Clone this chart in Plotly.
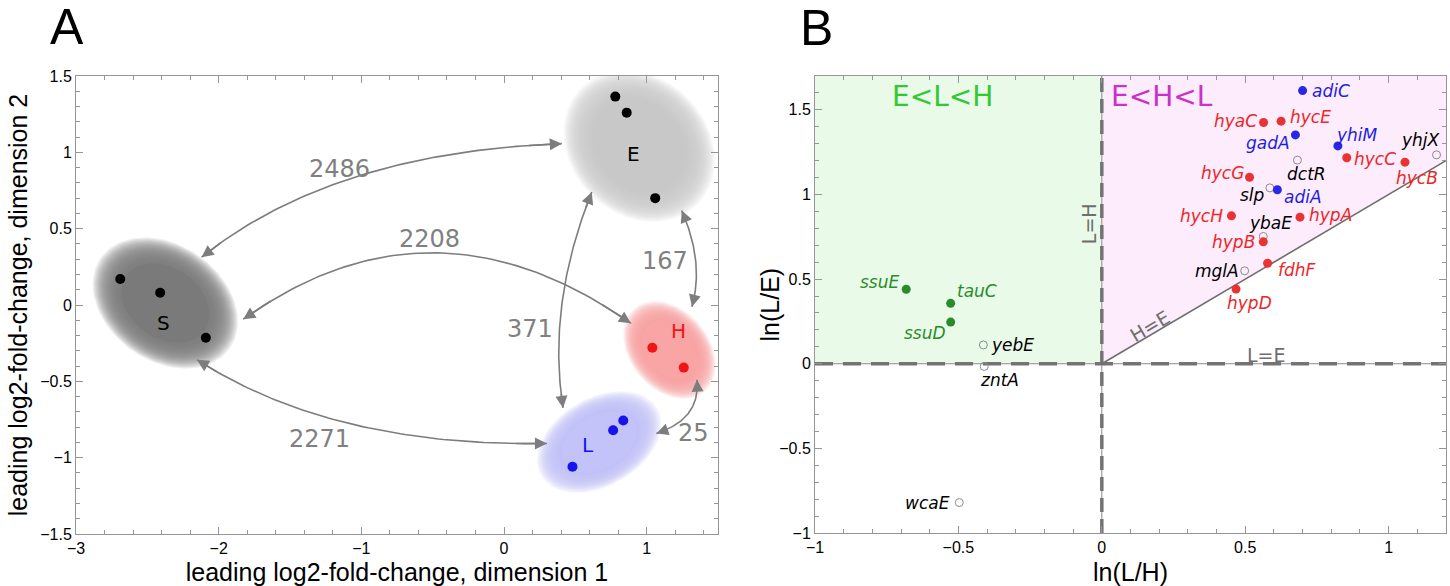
import numpy as np
import plotly.graph_objects as go

# ---------------- Panel A data ----------------
S_x = [-2.69, -2.41, -2.09]
S_y = [0.17, 0.08, -0.215]
E_x = [0.78, 0.86, 1.06]
E_y = [1.365, 1.26, 0.70]
H_x = [1.04, 1.26]
H_y = [-0.28, -0.41]
L_x = [0.48, 0.765, 0.836]
L_y = [-1.06, -0.82, -0.757]

link_pairs = [("S", "E"), ("S", "H"), ("S", "L"), ("E", "L"), ("E", "H"), ("H", "L")]
link_counts = [2486, 2208, 2271, 371, 167, 25]

A_xticks = [-3, -2, -1, 0, 1]
A_xticklabels = ["\u22123", "\u22122", "\u22121", "0", "1"]
A_yticks = [-1.5, -1, -0.5, 0, 0.5, 1, 1.5]
A_yticklabels = ["\u22121.5", "\u22121", "\u22120.5", "0", "0.5", "1", "1.5"]

# ---------------- Panel B data ----------------
red_genes = ["hyaC", "hycE", "hycC", "hycB", "hycG", "hycH", "hypA", "hypB", "fdhF", "hypD"]
red_x = [0.564, 0.625, 0.854, 1.057, 0.515, 0.452, 0.691, 0.563, 0.578, 0.468]
red_y = [1.425, 1.433, 1.217, 1.191, 1.102, 0.874, 0.866, 0.720, 0.594, 0.441]

blue_genes = ["adiC", "gadA", "yhiM", "adiA"]
blue_x = [0.700, 0.675, 0.823, 0.612]
blue_y = [1.614, 1.352, 1.287, 1.028]

green_genes = ["ssuE", "tauC", "ssuD"]
green_x = [-0.682, -0.527, -0.527]
green_y = [0.440, 0.357, 0.246]

open_genes = ["yhjX", "dctR", "slp", "ybaE", "mglA", "yebE", "zntA", "wcaE"]
open_x = [1.167, 0.682, 0.586, 0.563, 0.498, -0.413, -0.410, -0.497]
open_y = [1.234, 1.203, 1.039, 0.752, 0.549, 0.111, -0.016, -0.820]

B_xticks = [-1, -0.5, 0, 0.5, 1]
B_xticklabels = ["\u22121", "\u22120.5", "0", "0.5", "1"]
B_yticks = [-1, -0.5, 0, 0.5, 1, 1.5]
B_yticklabels = ["\u22121", "\u22120.5", "0", "0.5", "1", "1.5"]

# ---------------- styling / layout helpers ----------------
W, Hpx = 1450, 586
A_XR = [-3, 1.5]
A_YR = [-1.5, 1.5]
B_XR = [-1, 1.2]
B_YR = [-1, 1.7]
A_dom_x = [76 / W, 718 / W]
A_dom_y = [1 - 534 / Hpx, 1 - 76 / Hpx]
B_dom_x = [815 / W, 1446 / W]
B_dom_y = [1 - 533 / Hpx, 1 - 76 / Hpx]
px_x = (A_dom_x[1] - A_dom_x[0]) * W / (A_XR[1] - A_XR[0])
px_y = (A_dom_y[1] - A_dom_y[0]) * Hpx / (A_YR[1] - A_YR[0])

GRAY = "rgb(125,125,125)"
FRAME = "rgb(150,150,150)"
SANS = "Liberation Sans, Arial, sans-serif"
TICKFONT = dict(family=SANS, size=16, color="black")
TITLEFONT = dict(family=SANS, size=25, color="black")

# blob style: (center x, center y, semi-major px, semi-minor px, angle deg, rgb)
blob_style = {
    "S": (-2.374, 0.013, 68, 50, -35, (122, 122, 122)),
    "E": (0.948, 1.040, 71, 59, -45, (200, 200, 200)),
    "H": (1.160, -0.295, 47, 34, -50, (250, 165, 165)),
    "L": (0.667, -0.897, 58, 38, 30, (195, 195, 250)),
}
cluster_points = {"S": (S_x, S_y), "E": (E_x, E_y), "H": (H_x, H_y), "L": (L_x, L_y)}
cluster_color = {"S": "black", "E": "black", "H": "rgb(240,20,20)", "L": "rgb(20,20,235)"}
cluster_label_pos = {"S": (-2.39, -0.12), "E": (0.91, 0.99), "H": (1.22, -0.17), "L": (0.59, -0.92)}

# curve geometry for each link: (start, control, end) and label position
link_geom = [
    ((-2.12, 0.313), (-1.20, 1.00), (0.405, 1.057), (-1.15, 0.89)),
    ((-1.828, -0.093), (-0.50, 0.79), (0.89, -0.12), (-0.52, 0.43)),
    ((-2.152, -0.359), (-1.20, -0.93), (0.301, -0.907), (-1.29, -0.876)),
    ((0.615, 0.74), (0.30, 0.0), (0.414, -0.674), (0.18, -0.159)),
    ((1.246, 0.619), (1.406, 0.276), (1.317, -0.011), (1.13, 0.29)),
    ((1.353, -0.489), (1.378, -0.749), (1.068, -0.841), (1.327, -0.84)),
]

# gene label placement: (xanchor, xshift px, yshift px)
label_place = {
    "adiC": ("left", 7, 0), "hyaC": ("right", -5, 2), "hycE": ("left", 7, 4),
    "gadA": ("right", -3, -8), "yhiM": ("left", -4, 11), "yhjX": ("right", 5, 15),
    "dctR": ("center", 9, -14), "hycC": ("left", 5, -1), "hycB": ("center", 12, -16),
    "hycG": ("right", -4, 4), "slp": ("right", -3, -7), "adiA": ("left", 5, -7),
    "hycH": ("right", -6, 0), "hypA": ("left", 7, 2), "ybaE": ("center", 7, 13),
    "hypB": ("right", -6, 0), "fdhF": ("left", 8, -7), "mglA": ("right", -4, 0),
    "hypD": ("center", 13, -14), "ssuE": ("right", -5, 7), "tauC": ("left", 4, 12),
    "ssuD": ("right", -3, -11), "yebE": ("left", 6, 0), "zntA": ("center", 15, -14),
    "wcaE": ("right", -7, 0),
}

fig = go.Figure()

# ---- Panel A blobs (soft-edged ellipses) ----
t = np.linspace(0, 2 * np.pi, 120)
for key, (cx, cy, a, b, ang, rgb) in blob_style.items():
    phi = np.deg2rad(ang)
    layers = [(s, 0.13) for s in np.linspace(1.16, 0.72, 22)] + [(0.70, 1.0)]
    for s, alpha in layers:
        u = s * a * np.cos(t)
        v = s * b * np.sin(t)
        X = u * np.cos(phi) - v * np.sin(phi)
        Y = u * np.sin(phi) + v * np.cos(phi)
        fig.add_trace(go.Scatter(
            x=cx + X / px_x, y=cy + Y / px_y, mode="lines", fill="toself",
            line=dict(width=0), fillcolor=f"rgba({rgb[0]},{rgb[1]},{rgb[2]},{alpha})",
            hoverinfo="skip", showlegend=False, xaxis="x", yaxis="y"))

# ---- Panel A curved arrows ----
annotations = []
tt = np.linspace(0, 1, 80)
for (p0, c, p2, lp), cnt in zip(link_geom, link_counts):
    p0, c, p2 = np.array(p0), np.array(c), np.array(p2)
    curve = ((1 - tt)[:, None] ** 2) * p0 + (2 * (1 - tt) * tt)[:, None] * c + (tt[:, None] ** 2) * p2
    fig.add_trace(go.Scatter(x=curve[:, 0], y=curve[:, 1], mode="lines",
                             line=dict(color=GRAY, width=1.6), hoverinfo="skip",
                             showlegend=False, xaxis="x", yaxis="y"))
    for tip, back in ((curve[0], curve[6]), (curve[-1], curve[-7])):
        annotations.append(dict(x=tip[0], y=tip[1], ax=back[0], ay=back[1], xref="x", yref="y",
                                axref="x", ayref="y", showarrow=True, arrowhead=2, arrowsize=1.5,
                                arrowwidth=1.6, arrowcolor=GRAY, text=""))
    annotations.append(dict(x=lp[0], y=lp[1], xref="x", yref="y", text=str(cnt), showarrow=False,
                            font=dict(family="DejaVu Sans", size=24, color="rgb(128,128,128)")))

# ---- Panel A points and labels ----
for key, (xs, ys) in cluster_points.items():
    fig.add_trace(go.Scatter(x=xs, y=ys, mode="markers",
                             marker=dict(size=10, color=cluster_color[key]),
                             hoverinfo="skip", showlegend=False, xaxis="x", yaxis="y"))
    lx, ly = cluster_label_pos[key]
    annotations.append(dict(x=lx, y=ly, xref="x", yref="y", text=key, showarrow=False,
                            font=dict(family="DejaVu Sans", size=20, color=cluster_color[key])))

# ---- Panel B region fills ----
shapes = [
    dict(type="rect", xref="x2", yref="y2", x0=B_XR[0], x1=0, y0=0, y1=B_YR[1],
         fillcolor="rgb(233,250,233)", line=dict(width=0), layer="below"),
    dict(type="path", xref="x2", yref="y2",
         path=f"M 0,0 L {B_XR[1]},{B_XR[1]} L {B_XR[1]},{B_YR[1]} L 0,{B_YR[1]} Z",
         fillcolor="rgb(252,236,252)", line=dict(width=0), layer="below"),
]

# thin reference lines and dashed boundaries
fig.add_trace(go.Scatter(x=[B_XR[0], B_XR[1]], y=[0, 0], mode="lines",
                         line=dict(color="rgb(140,140,140)", width=1), hoverinfo="skip",
                         showlegend=False, xaxis="x2", yaxis="y2"))
fig.add_trace(go.Scatter(x=[0, 0], y=[B_YR[0], B_YR[1]], mode="lines",
                         line=dict(color="rgb(140,140,140)", width=1), hoverinfo="skip",
                         showlegend=False, xaxis="x2", yaxis="y2"))
fig.add_trace(go.Scatter(x=[B_XR[0], B_XR[1]], y=[0, 0], mode="lines",
                         line=dict(color="rgb(115,115,115)", width=3.5, dash="18px,10px"),
                         hoverinfo="skip", showlegend=False, xaxis="x2", yaxis="y2"))
fig.add_trace(go.Scatter(x=[0, 0], y=[B_YR[0], B_YR[1]], mode="lines",
                         line=dict(color="rgb(115,115,115)", width=3.5, dash="14px,7px"),
                         hoverinfo="skip", showlegend=False, xaxis="x2", yaxis="y2"))
fig.add_trace(go.Scatter(x=[0, B_XR[1]], y=[0, B_XR[1]], mode="lines",
                         line=dict(color="rgb(110,110,110)", width=1.6), hoverinfo="skip",
                         showlegend=False, xaxis="x2", yaxis="y2"))

# ---- Panel B gene points with labels ----
def add_genes(names, xs, ys, marker, tcolor):
    fig.add_trace(go.Scatter(x=xs, y=ys, mode="markers", marker=marker, hoverinfo="skip",
                             showlegend=False, xaxis="x2", yaxis="y2", cliponaxis=False))
    for n, xv, yv in zip(names, xs, ys):
        anc, dx, dy = label_place[n]
        annotations.append(dict(x=xv, y=yv, xref="x2", yref="y2", text=n, showarrow=False,
                                xanchor=anc, yanchor="middle", xshift=dx, yshift=dy,
                                font=dict(family="DejaVu Sans", size=17, color=tcolor,
                                          style="italic")))


add_genes(open_genes, open_x, open_y,
          dict(size=8, symbol="circle-open", color="rgb(140,140,140)", line=dict(width=1)), "black")
add_genes(red_genes, red_x, red_y, dict(size=9, color="rgb(235,50,50)"), "rgb(235,40,40)")
add_genes(blue_genes, blue_x, blue_y, dict(size=9, color="rgb(40,40,230)"), "rgb(30,30,225)")
add_genes(green_genes, green_x, green_y, dict(size=9, color="rgb(40,140,40)"), "rgb(40,140,40)")

# ---- Panel B text ----
annotations += [
    dict(x=-0.556, y=1.579, xref="x2", yref="y2", text="E&lt;L&lt;H", showarrow=False,
         font=dict(family="DejaVu Sans", size=28, color="rgb(50,200,50)")),
    dict(x=0.209, y=1.579, xref="x2", yref="y2", text="E&lt;H&lt;L", showarrow=False,
         font=dict(family="DejaVu Sans", size=28, color="rgb(200,50,200)")),
    dict(x=-0.045, y=0.83, xref="x2", yref="y2", text="L=H", showarrow=False, textangle=-90,
         font=dict(family="DejaVu Sans", size=19, color="rgb(110,110,110)")),
    dict(x=0.168, y=0.22, xref="x2", yref="y2", text="H=E", showarrow=False, textangle=-30.5,
         font=dict(family="DejaVu Sans", size=19, color="rgb(110,110,110)")),
    dict(x=0.575, y=0.053, xref="x2", yref="y2", text="L=E", showarrow=False,
         font=dict(family="DejaVu Sans", size=19, color="rgb(110,110,110)")),
    dict(x=769 / W, y=(B_dom_y[0] + B_dom_y[1]) / 2, xref="paper", yref="paper", text="ln(L/E)",
         showarrow=False, textangle=-90, xanchor="center", yanchor="middle", font=TITLEFONT),
    dict(x=67 / W, y=1 - 27 / Hpx, xref="paper", yref="paper", text="A", showarrow=False,
         xanchor="center", yanchor="middle", font=dict(family=SANS, size=50, color="black")),
    dict(x=817 / W, y=1 - 28 / Hpx, xref="paper", yref="paper", text="B", showarrow=False,
         xanchor="center", yanchor="middle", font=dict(family=SANS, size=50, color="black")),
]


def axis(domain, rng, tickvals, ticktext, minor_dtick, anchor, title, standoff):
    return dict(domain=domain, range=rng, anchor=anchor, tickmode="array", tickvals=tickvals,
                ticktext=ticktext, ticks="inside", ticklen=7, tickcolor=FRAME, tickwidth=1,
                minor=dict(ticks="inside", ticklen=4, tickcolor=FRAME, dtick=minor_dtick,
                           tick0=0, showgrid=False),
                showline=True, linecolor=FRAME, linewidth=1, mirror="ticks", showgrid=False,
                zeroline=False, tickfont=TICKFONT, automargin=False,
                title=dict(text=title, font=TITLEFONT, standoff=standoff))


fig.update_layout(
    width=W, height=Hpx, margin=dict(l=0, r=0, t=0, b=0),
    paper_bgcolor="white", plot_bgcolor="white", showlegend=False,
    xaxis=axis(A_dom_x, A_XR, A_xticks, A_xticklabels, 0.2, "y",
               "leading log2-fold-change, dimension 1", 10),
    yaxis=axis(A_dom_y, A_YR, A_yticks, A_yticklabels, 0.1, "x",
               "leading log2-fold-change, dimension 2", 5),
    xaxis2=axis(B_dom_x, B_XR, B_xticks, B_xticklabels, 0.1, "y2", "ln(L/H)", 8),
    yaxis2=axis(B_dom_y, B_YR, B_yticks, B_yticklabels, 0.1, "x2", "", 0),
    annotations=annotations, shapes=shapes,
)

fig.write_html("out.html")
